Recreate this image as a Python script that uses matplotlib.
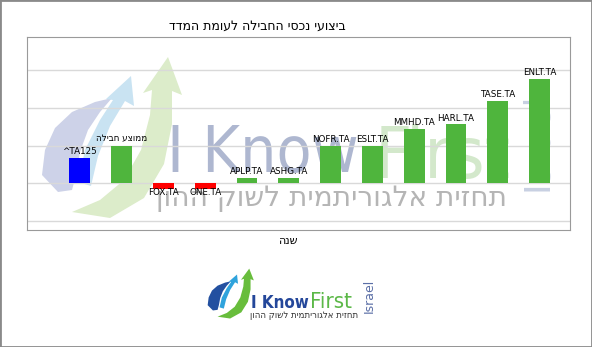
import matplotlib
matplotlib.use("Agg")
import matplotlib.pyplot as plt
import matplotlib.font_manager as fm
import numpy as np
from matplotlib.patches import Polygon, Rectangle

# data (percent change)
tickers = ["^TA125", "ממוצע חבילה", "FOX.TA", "ONE.TA", "APLP.TA", "ASHG.TA",
           "NOFR.TA", "ESLT.TA", "MMHD.TA", "HARL.TA", "TASE.TA", "ENLT.TA"]
returns = [6.6, 10.0, -1.6, -1.6, 1.4, 1.4, 9.9, 9.9, 14.4, 15.6, 21.9, 27.7]
bar_colors = ["#0000ff", "#4fb53d", "#ff0000", "#ff0000", "#4fb53d", "#4fb53d",
              "#4fb53d", "#4fb53d", "#4fb53d", "#4fb53d", "#4fb53d", "#4fb53d"]
grid_ticks = [-10, 0, 10, 20, 30]

title = "ביצועי נכסי החבילה לעומת המדד"
xlabel = "שנה"
slogan = "תחזית אלגוריתמית לשוק ההון"

W, H = 592, 347


def rtl(s):
    # matplotlib has no bidi support, so flip hebrew strings for display
    if any("\u0590" <= c <= "\u05ff" for c in s):
        return s[::-1]
    return s


def px(x, y):
    return x / W, 1 - y / H


def narrow_font(bold=False):
    # the logo lettering is condensed; use a narrow face if one is installed
    for f in fm.fontManager.ttflist:
        narrow = "Narrow" in f.name or "Condensed" in f.name or \
            f.stretch in ("condensed", "semi-condensed")
        is_bold = f.weight in ("bold", 700, "700")
        if narrow and is_bold == bold and f.style == "normal":
            return fm.FontProperties(fname=f.fname)
    return fm.FontProperties(family="Liberation Sans", weight="bold" if bold else "normal")


def fit(txt, width_px, renderer):
    # shrink a text until it is no wider than width_px
    w = txt.get_window_extent(renderer).width
    if w > width_px:
        txt.set_fontsize(txt.get_fontsize() * width_px / w)


def swoosh(fig, x0, y0, sx, sy, colors, z):
    # rough logo icon, drawn in pixel space
    blob = [(42, 175), (45, 150), (55, 128), (72, 112), (95, 102), (112, 98), (100, 112),
            (88, 130), (80, 152), (76, 175), (72, 190), (58, 192)]
    blue_arrow = [(78, 182), (85, 150), (100, 120), (113, 100), (106, 99), (131, 76), (134, 106),
                  (125, 101), (110, 126), (98, 156), (91, 186)]
    green_arrow = [(72, 212), (100, 200), (124, 180), (141, 150), (150, 115), (152, 90), (143, 93),
                   (168, 57), (182, 95), (172, 91), (172, 124), (164, 164), (144, 198), (110, 218)]
    for pts, c in zip([blob, blue_arrow, green_arrow], colors):
        xy = [px(x0 + (x - 40) * sx, y0 + (y - 55) * sy) for x, y in pts]
        fig.patches.append(Polygon(xy, closed=True, transform=fig.transFigure, facecolor=c,
                                   edgecolor="none", zorder=z))


fig = plt.figure(figsize=(W / 100, H / 100), dpi=100)
fig.patch.set_facecolor("white")
renderer = fig.canvas.get_renderer()

# background watermark
swoosh(fig, 40, 55, 1.0, 1.0, ["#cdd2e8", "#c9e3f2", "#dcecca"], -2)
wm1 = fig.text(*px(167, 172), "I Know", fontsize=60, color="#aeb7d0",
               fontproperties=narrow_font(), ha="left", va="baseline", zorder=-1)
wm1.set_fontsize(60)
fit(wm1, 192, renderer)
wm2 = fig.text(*px(375, 178), "First", fontproperties=narrow_font(), color="#d3e8cb",
               ha="left", va="baseline", zorder=-1)
wm2.set_fontsize(60)
fit(wm2, 136, renderer)
wm3 = fig.text(*px(332, 198), rtl(slogan), fontsize=22, color="#b5b5b5",
               ha="center", va="center", zorder=-1)
fit(wm3, 350, renderer)
fig.text(*px(537, 142), "Israel", fontsize=26, color="#c8d0e2", rotation=90,
         ha="center", va="center", zorder=-1)

ax = fig.add_axes([27.3 / W, 1 - 230 / H, (570 - 27.3) / W, (230 - 37) / H])
ax.patch.set_visible(False)
x = np.arange(len(tickers))
bars = ax.bar(x, returns, width=0.5, color=bar_colors, zorder=3)
for xi, v, name in zip(x, returns, tickers):
    if v >= 0:
        ax.text(xi, v + 0.5, rtl(name), ha="center", va="bottom", fontsize=6.3, zorder=4)
    else:
        ax.text(xi, v + 0.4, rtl(name), ha="center", va="top", fontsize=6.3, zorder=4)

ax.set_xlim(-1.26, 11.73)
ax.set_ylim(-12.5, 38.9)
ax.set_yticks(grid_ticks)
ax.set_xticks([])
ax.tick_params(left=False, labelleft=False)
ax.grid(axis="y", color="#d9d9d9", linewidth=1, zorder=1)
for s in ax.spines.values():
    s.set_color("#9a9a9a")
    s.set_linewidth(0.8)

fig.text(*px(257, 26), rtl(title), fontsize=9, ha="center", va="center")
fig.text(*px(289, 241), rtl(xlabel), fontsize=8, ha="center", va="center")

# logo at the bottom
swoosh(fig, 207, 268, 0.33, 0.31, ["#2350a0", "#2fa3dc", "#68bd3c"], 2)
lg1 = fig.text(*px(251, 308), "I Know", fontproperties=narrow_font(bold=True),
               color="#24479a", ha="left", va="baseline")
lg1.set_fontsize(16)
fit(lg1, 58, renderer)
lg2 = fig.text(*px(310, 308), "First", fontproperties=narrow_font(), color="#5cb848",
               ha="left", va="baseline")
lg2.set_fontsize(16)
fit(lg2, 47, renderer)
lg3 = fig.text(*px(304, 316), rtl(slogan), fontsize=7, color="#333333", ha="center", va="center")
fit(lg3, 108, renderer)
fig.text(*px(369, 296), "Israel", fontsize=9, color="#5a6ea6", rotation=90,
         ha="center", va="center")

fig.patches.append(Rectangle((0, 0), 1, 1, transform=fig.transFigure, fill=False,
                             edgecolor="#8a8a8a", linewidth=2, zorder=5))

fig.savefig("out.png", dpi=100)
